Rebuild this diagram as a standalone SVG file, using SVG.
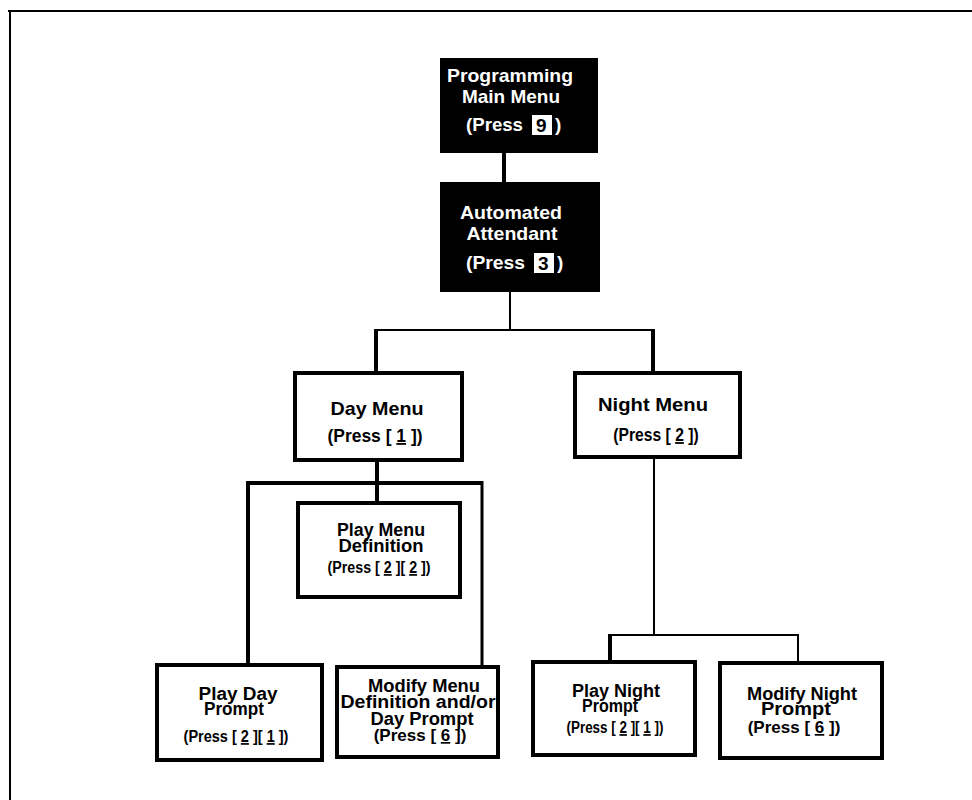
<svg xmlns="http://www.w3.org/2000/svg" width="972" height="800" viewBox="0 0 972 800">
<style>
text{font-family:"Liberation Sans",Arial,sans-serif;font-weight:bold;fill:#000;}
.w{fill:#fff;}
.c{text-anchor:middle;}
.t{font-size:19px;}
.p{font-size:18px;}
.s{font-size:17px;}
.u{text-decoration:underline;}
.box{fill:#fff;stroke:#000;stroke-width:4;}
.blk{fill:#000;stroke:none;}
.th{stroke:#000;stroke-width:4;fill:none;}
.tn{stroke:#000;stroke-width:2;fill:none;}
</style>
<rect width="972" height="800" fill="#fff"/>
<g id="frame">
<line x1="8" y1="11" x2="972" y2="11" class="tn"/>
<line x1="10" y1="12" x2="10" y2="800" class="tn"/>
</g>
<g id="connectors">
<line x1="504" y1="153" x2="504" y2="182" class="th"/>
<line x1="510" y1="292" x2="510" y2="330" class="tn"/>
<line x1="376" y1="330" x2="653" y2="330" class="tn"/>
<line x1="376" y1="329" x2="376" y2="373" class="th"/>
<line x1="653" y1="329" x2="653" y2="373" class="th"/>
<line x1="377" y1="460" x2="377" y2="503" class="th"/>
<line x1="246" y1="483" x2="483" y2="483" class="th"/>
<line x1="248" y1="481" x2="248" y2="665" class="th"/>
<line x1="482" y1="481" x2="482" y2="667" style="stroke:#000;stroke-width:3"/>
<line x1="654" y1="457" x2="654" y2="635" class="tn"/>
<line x1="610" y1="635" x2="798" y2="635" class="tn"/>
<line x1="610" y1="634" x2="610" y2="662" class="th"/>
<line x1="798" y1="634" x2="798" y2="663" class="tn"/>
</g>
<g id="main-menu">
<rect x="440" y="58" width="158" height="95" class="blk"/>
<text x="510" y="82" class="t c w" textLength="126" lengthAdjust="spacingAndGlyphs">Programming</text>
<text x="511" y="103" class="t c w" textLength="98" lengthAdjust="spacingAndGlyphs">Main  Menu</text>
<text x="466" y="131" class="t w" textLength="57" lengthAdjust="spacingAndGlyphs">(Press</text>
<rect x="532" y="115" width="20" height="20" fill="#fff"/>
<text x="536" y="132" class="t">9</text>
<text x="555" y="131" class="t w">)</text>
</g>
<g id="auto-attendant">
<rect x="440" y="182" width="160" height="110" class="blk"/>
<text x="511" y="219" class="t c w" textLength="102" lengthAdjust="spacingAndGlyphs">Automated</text>
<text x="512" y="240" class="t c w" textLength="91" lengthAdjust="spacingAndGlyphs">Attendant</text>
<text x="466" y="269" class="t w" textLength="59" lengthAdjust="spacingAndGlyphs">(Press</text>
<rect x="534" y="253" width="20" height="20" fill="#fff"/>
<text x="538" y="270" class="t">3</text>
<text x="557" y="269" class="t w">)</text>
</g>
<g id="day-menu">
<rect x="295" y="373" width="167" height="87" class="box"/>
<text x="377" y="415" class="t c" textLength="93" lengthAdjust="spacingAndGlyphs">Day Menu</text>
<text transform="translate(375,442) scale(0.97,1)" class="p c">(Press [ <tspan class="u">1</tspan> ])</text>
</g>
<g id="night-menu">
<rect x="575" y="373" width="165" height="84" class="box"/>
<text x="653" y="411" class="t c" textLength="110" lengthAdjust="spacingAndGlyphs">Night  Menu</text>
<text transform="translate(656,441) scale(0.87,1)" class="p c">(Press [ <tspan class="u">2</tspan> ])</text>
</g>
<g id="play-menu-def">
<rect x="298" y="503" width="162" height="94" class="box"/>
<text x="381" y="536" class="p c" textLength="88" lengthAdjust="spacingAndGlyphs">Play Menu</text>
<text x="381" y="552" class="p c" textLength="85" lengthAdjust="spacingAndGlyphs">Definition</text>
<text transform="translate(379,573) scale(0.84,1)" class="s c">(Press [ <tspan class="u">2</tspan> ][ <tspan class="u">2</tspan> ])</text>
</g>
<g id="play-day-prompt">
<rect x="157" y="665" width="165" height="95" class="box"/>
<text x="238" y="700" class="p c" textLength="79" lengthAdjust="spacingAndGlyphs">Play Day</text>
<text x="234" y="715" class="p c" textLength="60" lengthAdjust="spacingAndGlyphs">Prompt</text>
<text transform="translate(236,742) scale(0.855,1)" class="s c">(Press [ <tspan class="u">2</tspan> ][ <tspan class="u">1</tspan> ])</text>
</g>
<g id="modify-menu-def">
<rect x="337" y="667" width="161" height="90" class="box"/>
<text x="424" y="692" class="p c" textLength="112" lengthAdjust="spacingAndGlyphs">Modify Menu</text>
<text x="418" y="708" class="p c" textLength="155" lengthAdjust="spacingAndGlyphs">Definition and/or</text>
<text x="422" y="725" class="p c" textLength="103" lengthAdjust="spacingAndGlyphs">Day  Prompt</text>
<text transform="translate(420,741) scale(1,1)" class="s c">(Press [ <tspan class="u">6</tspan> ])</text>
</g>
<g id="play-night-prompt">
<rect x="533" y="662" width="162" height="93" class="box"/>
<text x="616" y="697" class="p c" textLength="88" lengthAdjust="spacingAndGlyphs">Play  Night</text>
<text x="610" y="712" class="p c" textLength="56" lengthAdjust="spacingAndGlyphs">Prompt</text>
<text transform="translate(615,733) scale(0.79,1)" class="s c">(Press [ <tspan class="u">2</tspan> ][ <tspan class="u">1</tspan> ])</text>
</g>
<g id="modify-night-prompt">
<rect x="720" y="663" width="162" height="95" class="box"/>
<text x="802" y="700" class="p c" textLength="110" lengthAdjust="spacingAndGlyphs">Modify Night</text>
<text x="796" y="715" class="p c" textLength="70" lengthAdjust="spacingAndGlyphs">Prompt</text>
<text transform="translate(794,733) scale(1,1)" class="s c">(Press [ <tspan class="u">6</tspan> ])</text>
</g>
</svg>
